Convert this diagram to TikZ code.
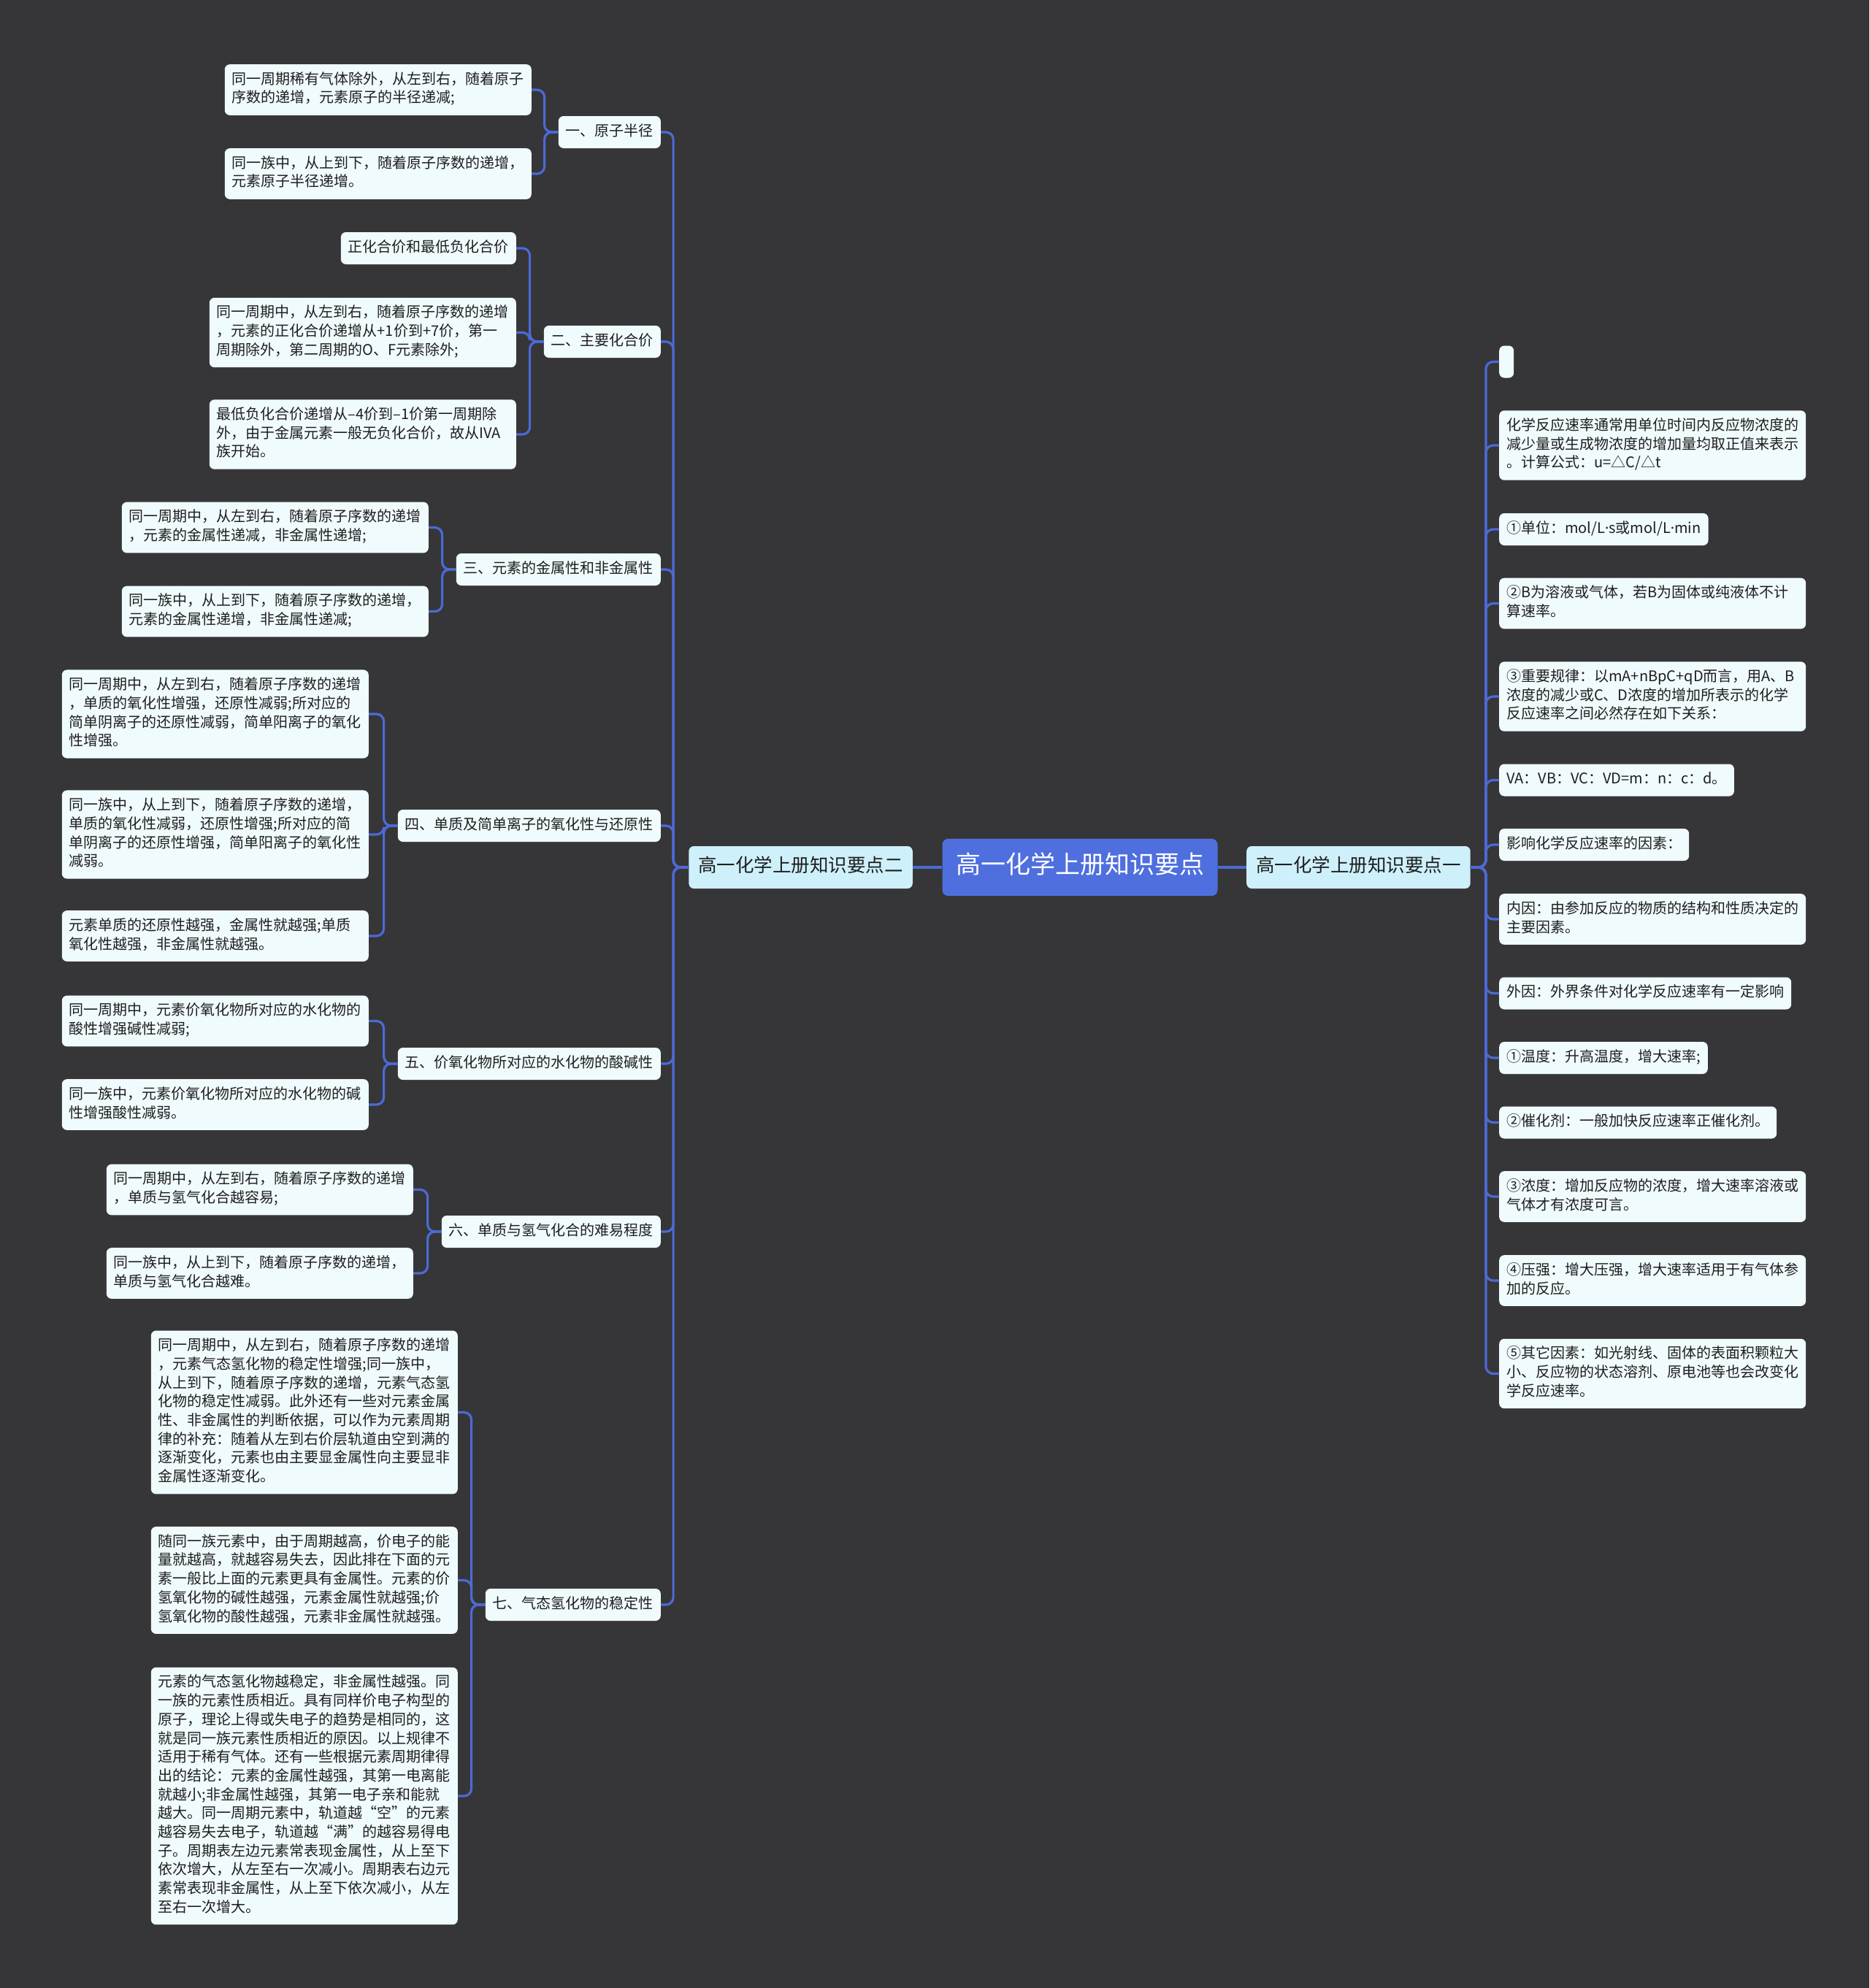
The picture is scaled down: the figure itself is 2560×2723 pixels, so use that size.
\documentclass[tikz,border=0pt]{standalone}
\usepackage{fontspec}
\setmainfont{Noto Sans CJK SC}
\newfontfamily\latinf{Noto Sans}
\newcommand\mdot{{\latinf ·}}
\hyphenpenalty=10000
\exhyphenpenalty=10000
\definecolor{bg}{HTML}{363638}
\definecolor{leaffill}{HTML}{F0FBFD}
\definecolor{lonefill}{HTML}{CEF0FB}
\definecolor{rootfill}{HTML}{4F6FDF}
\definecolor{linec}{HTML}{4C6AD6}
\definecolor{textc}{HTML}{1E1E1E}
\tikzset{
  leaf/.style={fill=leaffill, rounded corners=7pt, inner xsep=10pt, inner ysep=9.15pt,
    font=\fontsize{20}{25.7}\selectfont, text=textc,
    execute at begin node=\strut, execute at end node=\strut},
  wide/.style={text width=400pt, align=left},
  lone/.style={fill=lonefill, rounded corners=7pt, inner xsep=13pt, inner ysep=13.5pt,
    font=\fontsize{25.5}{31}\selectfont, text=textc,
    execute at begin node=\strut, execute at end node=\strut},
  rootbox/.style={fill=rootfill, rounded corners=8pt, inner xsep=18.5pt, inner ysep=18.5pt,
    font=\fontsize{34}{41}\selectfont, text=white,
    execute at begin node=\strut, execute at end node=\strut},
  conn/.style={draw=linec, line width=3.2pt, rounded corners=10pt},
}
\begin{document}
\begin{tikzpicture}[x=1pt,y=-1pt]
\fill[bg] (0,0) rectangle (2560,2723);
\useasboundingbox (0,0) rectangle (2560,2723);

% root and first level
\node[rootbox] (R) at (1479,1188) {高一化学上册知识要点};
\node[lone, anchor=east] (A) at (1250,1188) {高一化学上册知识要点二};
\node[lone, anchor=west] (B) at (1707,1188) {高一化学上册知识要点一};

% left second level
\node[leaf, anchor=east] (a1) at (905,181) {一、原子半径};
\node[leaf, anchor=east] (a2) at (905,468) {二、主要化合价};
\node[leaf, anchor=east] (a3) at (905,780) {三、元素的金属性和非金属性};
\node[leaf, anchor=east] (a4) at (905,1131) {四、单质及简单离子的氧化性与还原性};
\node[leaf, anchor=east] (a5) at (905,1457) {五、价氧化物所对应的水化物的酸碱性};
\node[leaf, anchor=east] (a6) at (905,1687) {六、单质与氢气化合的难易程度};
\node[leaf, anchor=east] (a7) at (905,2198) {七、气态氢化物的稳定性};

% group 1
\node[leaf, wide, anchor=east] (a1x) at (728,123) {同一周期稀有气体除外，从左到右，随着原子\\序数的递增，元素原子的半径递减;};
\node[leaf, wide, anchor=east] (a1y) at (728,238) {同一族中，从上到下，随着原子序数的递增，\\元素原子半径递增。};
% group 2
\node[leaf, anchor=east] (a2x) at (707,340) {正化合价和最低负化合价};
\node[leaf, wide, anchor=east] (a2y) at (707,455.5) {同一周期中，从左到右，随着原子序数的递增\\，元素的正化合价递增从+1价到+7价，第一\\周期除外，第二周期的O、F元素除外;};
\node[leaf, wide, anchor=east] (a2z) at (707,595) {最低负化合价递增从–4价到–1价第一周期除\\外，由于金属元素一般无负化合价，故从IVA\\族开始。};
% group 3
\node[leaf, wide, anchor=east] (a3x) at (587,722.5) {同一周期中，从左到右，随着原子序数的递增\\，元素的金属性递减，非金属性递增;};
\node[leaf, wide, anchor=east] (a3y) at (587,837.5) {同一族中，从上到下，随着原子序数的递增，\\元素的金属性递增，非金属性递减;};
% group 4
\node[leaf, wide, anchor=east] (a4x) at (505,978) {同一周期中，从左到右，随着原子序数的递增\\，单质的氧化性增强，还原性减弱;所对应的\\简单阴离子的还原性减弱，简单阳离子的氧化\\性增强。};
\node[leaf, wide, anchor=east] (a4y) at (505,1143) {同一族中，从上到下，随着原子序数的递增，\\单质的氧化性减弱，还原性增强;所对应的简\\单阴离子的还原性增强，简单阳离子的氧化性\\减弱。};
\node[leaf, wide, anchor=east] (a4z) at (505,1282) {元素单质的还原性越强，金属性就越强;单质\\氧化性越强，非金属性就越强。};
% group 5
\node[leaf, wide, anchor=east] (a5x) at (505,1398.5) {同一周期中，元素价氧化物所对应的水化物的\\酸性增强碱性减弱;};
\node[leaf, wide, anchor=east] (a5y) at (505,1513) {同一族中，元素价氧化物所对应的水化物的碱\\性增强酸性减弱。};
% group 6
\node[leaf, wide, anchor=east] (a6x) at (566,1629.5) {同一周期中，从左到右，随着原子序数的递增\\，单质与氢气化合越容易;};
\node[leaf, wide, anchor=east] (a6y) at (566,1744) {同一族中，从上到下，随着原子序数的递增，\\单质与氢气化合越难。};
% group 7
\node[leaf, wide, anchor=east] (a7x) at (627,1934.5) {同一周期中，从左到右，随着原子序数的递增\\，元素气态氢化物的稳定性增强;同一族中，\\从上到下，随着原子序数的递增，元素气态氢\\化物的稳定性减弱。此外还有一些对元素金属\\性、非金属性的判断依据，可以作为元素周期\\律的补充：随着从左到右价层轨道由空到满的\\逐渐变化，元素也由主要显金属性向主要显非\\金属性逐渐变化。};
\node[leaf, wide, anchor=east] (a7y) at (627,2164.5) {随同一族元素中，由于周期越高，价电子的能\\量就越高，就越容易失去，因此排在下面的元\\素一般比上面的元素更具有金属性。元素的价\\氢氧化物的碱性越强，元素金属性就越强;价\\氢氧化物的酸性越强，元素非金属性就越强。};
\node[leaf, wide, anchor=east] (a7z) at (627,2460) {元素的气态氢化物越稳定，非金属性越强。同\\一族的元素性质相近。具有同样价电子构型的\\原子，理论上得或失电子的趋势是相同的，这\\就是同一族元素性质相近的原因。以上规律不\\适用于稀有气体。还有一些根据元素周期律得\\出的结论：元素的金属性越强，其第一电离能\\就越小;非金属性越强，其第一电子亲和能就\\越大。同一周期元素中，轨道越“空”的元素\\越容易失去电子，轨道越“满”的越容易得电\\子。周期表左边元素常表现金属性，从上至下\\依次增大，从左至右一次减小。周期表右边元\\素常表现非金属性，从上至下依次减小，从左\\至右一次增大。};

% right second level
\node[leaf, anchor=west] (b1) at (2053,495.5) {};
\node[leaf, wide, anchor=west] (b2) at (2053,610) {化学反应速率通常用单位时间内反应物浓度的\\减少量或生成物浓度的增加量均取正值来表示\\。计算公式：u=△C/△t};
\node[leaf, anchor=west] (b3) at (2053,725) {①单位：mol/L\mdot s或mol/L\mdot min};
\node[leaf, wide, anchor=west] (b4) at (2053,826.5) {②B为溶液或气体，若B为固体或纯液体不计\\算速率。};
\node[leaf, wide, anchor=west] (b5) at (2053,954) {③重要规律：以mA+nBpC+qD而言，用A、B\\浓度的减少或C、D浓度的增加所表示的化学\\反应速率之间必然存在如下关系：};
\node[leaf, anchor=west] (b6) at (2053,1068.5) {VA：VB：VC：VD=m：n：c：d。};
\node[leaf, anchor=west] (b7) at (2053,1157) {影响化学反应速率的因素：};
\node[leaf, wide, anchor=west] (b8) at (2053,1259) {内因：由参加反应的物质的结构和性质决定的\\主要因素。};
\node[leaf, anchor=west] (b9) at (2053,1360.5) {外因：外界条件对化学反应速率有一定影响};
\node[leaf, anchor=west] (b10) at (2053,1449) {①温度：升高温度，增大速率;};
\node[leaf, anchor=west] (b11) at (2053,1537.5) {②催化剂：一般加快反应速率正催化剂。};
\node[leaf, wide, anchor=west] (b12) at (2053,1639) {③浓度：增加反应物的浓度，增大速率溶液或\\气体才有浓度可言。};
\node[leaf, wide, anchor=west] (b13) at (2053,1754) {④压强：增大压强，增大速率适用于有气体参\\加的反应。};
\node[leaf, wide, anchor=west] (b14) at (2053,1881.5) {⑤其它因素：如光射线、固体的表面积颗粒大\\小、反应物的状态溶剂、原电池等也会改变化\\学反应速率。};

% connectors
\draw[conn] (R.west) -- (A.east);
\draw[conn] (R.east) -- (B.west);
\foreach \c in {a1,a2,a3,a4,a5,a6,a7}
  \draw[conn] (A.west) -- ++(-21,0) |- (\c.east);
\foreach \c in {b1,b2,b3,b4,b5,b6,b7,b8,b9,b10,b11,b12,b13,b14}
  \draw[conn] (B.east) -- ++(21,0) |- (\c.west);
\foreach \p/\c in {a1/a1x,a1/a1y,a2/a2x,a2/a2y,a2/a2z,a3/a3x,a3/a3y,a4/a4x,a4/a4y,a4/a4z,a5/a5x,a5/a5y,a6/a6x,a6/a6y,a7/a7x,a7/a7y,a7/a7z}
  \draw[conn] (\p.west) -- ++(-19,0) |- (\c.east);
\end{tikzpicture}
\end{document}
